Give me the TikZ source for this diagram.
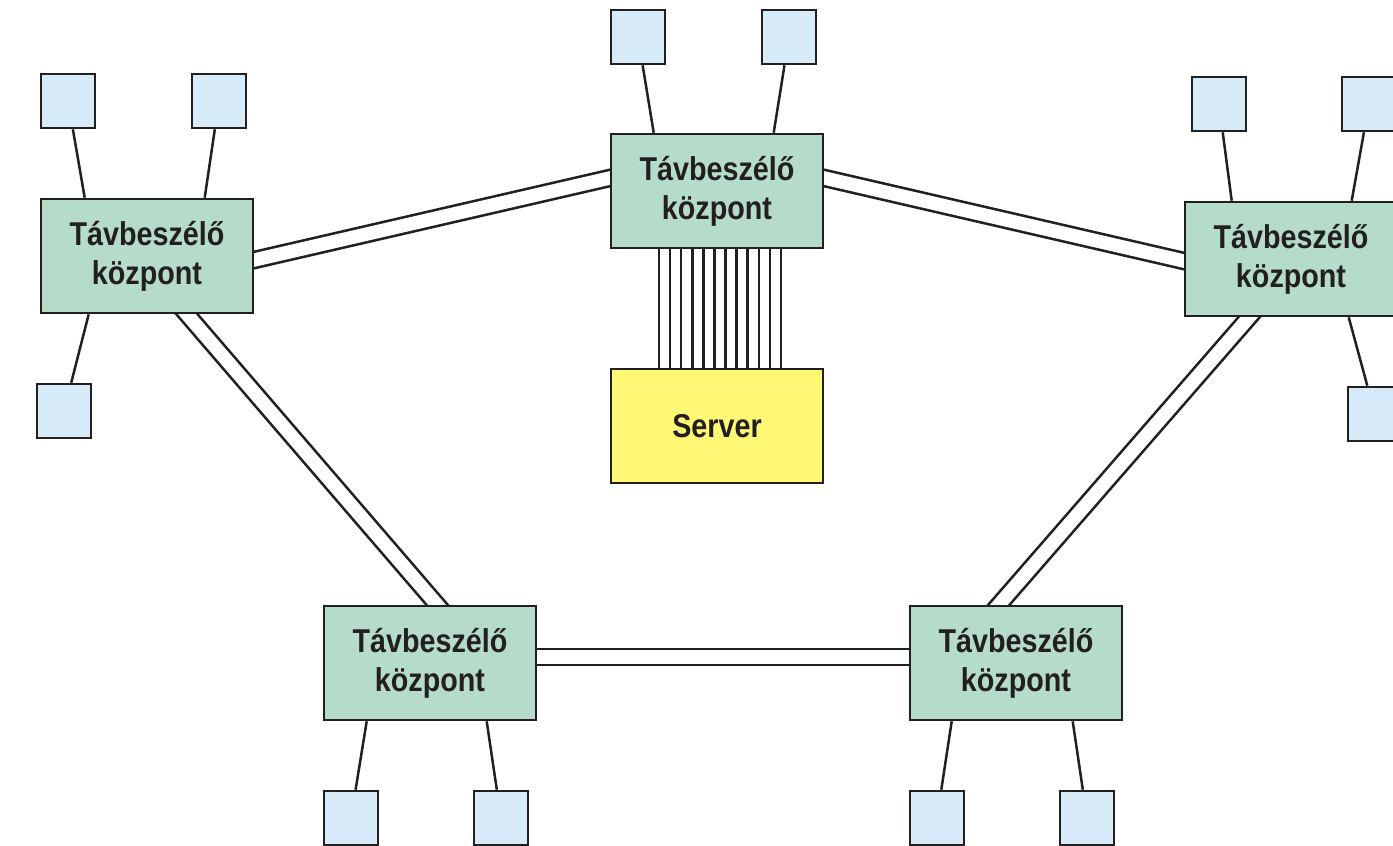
\documentclass[tikz,border=0pt]{standalone}
\usepackage{fontspec}
\newfontfamily\lblfont{Liberation Sans}[FakeStretch=0.87]
\usetikzlibrary{calc,backgrounds}
\definecolor{ink}{HTML}{231F20}
\definecolor{hubgreen}{HTML}{B5DCC8}
\definecolor{termblue}{HTML}{D6EBF7}
\definecolor{srvyellow}{HTML}{FFF875}
\tikzset{
  hub/.style={draw=ink, fill=hubgreen, line width=2.6pt, minimum width=212pt,
    minimum height=114pt, inner sep=0pt, align=center,
    font=\lblfont\bfseries\fontsize{33}{39}\selectfont, text=ink},
  srv/.style={hub, fill=srvyellow},
  term/.style={draw=ink, fill=termblue, line width=2.6pt, minimum size=54pt, inner sep=0pt},
  trunk/.style={draw=ink, line width=2.6pt, double=white, double distance=13.4pt,
    shorten <=-14pt, shorten >=-14pt},
  link/.style={draw=ink, line width=2.5pt},
}
\begin{document}
\begin{tikzpicture}[x=1pt, y=-1pt]
\useasboundingbox (0,0) rectangle (1393,846);
\clip (0,0) rectangle (1393,846);

% exchanges and server
\node[hub] (T)  at (717,191)  {Távbeszélő\\központ};
\node[hub] (L)  at (147,256)  {Távbeszélő\\központ};
\node[hub] (R)  at (1291,259) {Távbeszélő\\központ};
\node[hub] (BL) at (430,663)  {Távbeszélő\\központ};
\node[hub] (BR) at (1016,663) {Távbeszélő\\központ};
\node[srv] (S)  at (717,426)  {Server};

% terminals
\node[term] (t1) at (638,37)   {};
\node[term] (t2) at (789,37)   {};
\node[term] (l1) at (68,101)   {};
\node[term] (l2) at (219,101)  {};
\node[term] (l3) at (64,411)   {};
\node[term] (r1) at (1219,104) {};
\node[term] (r2) at (1369,104) {};
\node[term] (r3) at (1375,414) {};
\node[term] (b1) at (351,818)  {};
\node[term] (b2) at (501,818)  {};
\node[term] (c1) at (937,818)  {};
\node[term] (c2) at (1087,818) {};

\begin{pgfonlayer}{background}
  % trunk lines between exchanges
  \draw[trunk] ($(L.east)+(0,4)$)    -- ($(T.west)+(0,-13)$);
  \draw[trunk] ($(T.east)+(0,-13)$)  -- ($(R.west)+(0,2)$);
  \draw[trunk] ($(L.south)+(40,0)$)  -- ($(BL.north)+(7,0)$);
  \draw[trunk] ($(R.south)+(-42,0)$) -- ($(BR.north)+(-17,0)$);
  \draw[trunk] ($(BL.east)+(0,-6)$)  -- ($(BR.west)+(0,-6)$);

  % bundle of lines to the server
  \foreach \i in {0,...,11}
    \draw[link] ($(T.south)+(-58+11.09*\i,0)$) -- ($(S.north)+(-58+11.09*\i,0)$);

  % subscriber lines
  \draw[link] (t1) -- ($(T.north west)+(44,0)$);
  \draw[link] (t2) -- ($(T.north west)+(164,0)$);
  \draw[link] (l1) -- ($(L.north west)+(45,0)$);
  \draw[link] (l2) -- ($(L.north west)+(165,0)$);
  \draw[link] (l3) -- ($(L.south west)+(49,0)$);
  \draw[link] (r1) -- ($(R.north west)+(48,0)$);
  \draw[link] (r2) -- ($(R.north west)+(168,0)$);
  \draw[link] (r3) -- ($(R.south west)+(165,0)$);
  \draw[link] (b1) -- ($(BL.south west)+(44,0)$);
  \draw[link] (b2) -- ($(BL.south west)+(164,0)$);
  \draw[link] (c1) -- ($(BR.south west)+(43,0)$);
  \draw[link] (c2) -- ($(BR.south west)+(164,0)$);
\end{pgfonlayer}
\end{tikzpicture}
\end{document}
